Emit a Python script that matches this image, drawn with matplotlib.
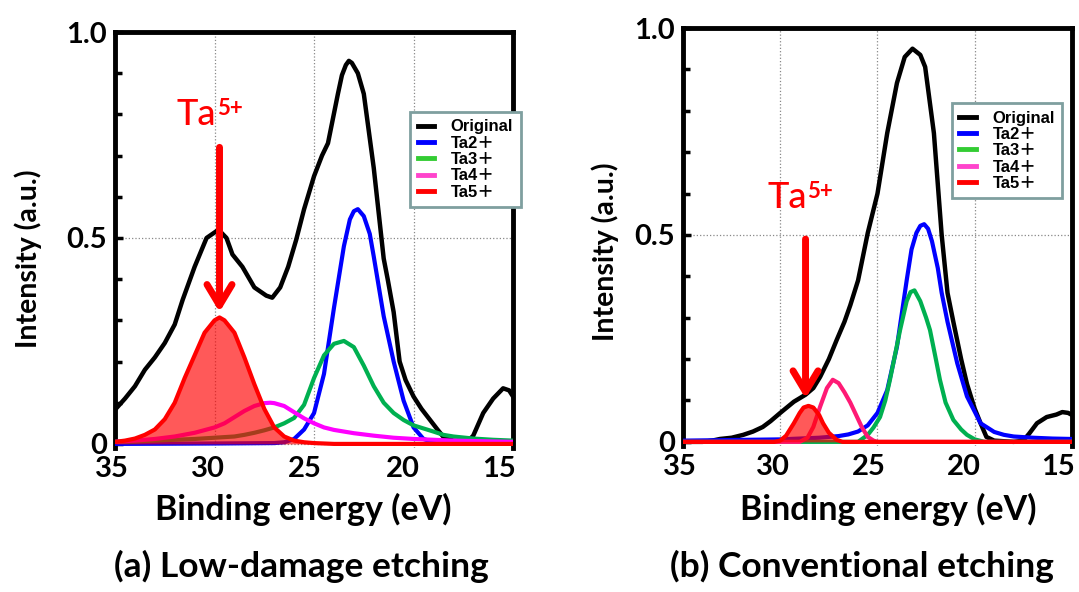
import matplotlib
matplotlib.use("Agg")
import matplotlib.pyplot as plt
from matplotlib.lines import Line2D
from matplotlib.ticker import MultipleLocator
from matplotlib.transforms import ScaledTranslation

# ─── Fonts / colours ─────────────────────────────────────────────────────────
plt.rcParams['font.family'] = ['Lato', 'DejaVu Sans']
LEGEND_FONT = ['Liberation Sans', 'Noto Sans CJK JP']

C_ORIG = "black"
C_TA2 = "#0000ff"
C_TA3 = "#00b050"
C_TA4 = "#ff00ff"
C_TA5 = "#ff0000"
LEG_COLORS = ["black", "#0000ff", "#33cc33", "#ff44cc", "#ff0000"]
LEG_LABELS = ["Original", "Ta2＋", "Ta3＋", "Ta4＋", "Ta5＋"]

X_TICKS = [35, 30, 25, 20, 15]
X_TICKLABELS = ["35", "30", "25", "20", "15"]
Y_TICKS = [0, 0.5, 1.0]
Y_TICKLABELS = ["0", "0.5", "1.0"]

# ─── (a) Low-damage etching ──────────────────────────────────────────────────
a_orig_e = [35.0, 34.5, 34.0, 33.5, 33.0, 32.5, 32.0, 31.6, 31.0, 30.4, 29.8, 29.4,
            29.1, 28.6, 28.0, 27.4, 27.1, 26.7, 26.3, 25.9, 25.5, 25.0, 24.6, 24.3,
            23.8, 23.6, 23.4, 23.25, 23.1, 22.8, 22.5, 22.0, 21.5, 21.3, 21.0, 20.7, 20.4,
            20.0, 19.6, 19.2, 18.8, 18.5, 18.0, 17.3, 17.0, 16.5, 16.0, 15.5, 15.2, 15.0]
a_orig_i = [0.083, 0.11, 0.14, 0.18, 0.21, 0.245, 0.29, 0.35, 0.43, 0.50, 0.52, 0.50,
            0.46, 0.43, 0.38, 0.36, 0.355, 0.38, 0.43, 0.495, 0.57, 0.65, 0.70, 0.73,
            0.85, 0.895, 0.92, 0.93, 0.925, 0.90, 0.85, 0.67, 0.45, 0.40, 0.32, 0.20, 0.155,
            0.115, 0.085, 0.06, 0.035, 0.017, 0.008, 0.005, 0.02, 0.075, 0.11, 0.135, 0.13, 0.115]

a_ta2_e = [35.0, 30.0, 27.0, 26.5, 26.0, 25.5, 25.0, 24.5, 24.0, 23.5, 23.2, 23.0,
           22.8, 22.5, 22.2, 22.0, 21.5, 21.0, 20.5, 20.0, 19.5, 19.0, 18.5, 17.0, 15.0]
a_ta2_i = [0.0, 0.001, 0.002, 0.004, 0.012, 0.035, 0.075, 0.17, 0.33, 0.48, 0.545, 0.565,
           0.57, 0.553, 0.51, 0.455, 0.31, 0.20, 0.105, 0.04, 0.012, 0.004, 0.002, 0.001, 0.0]

a_ta3_e = [35.0, 34.0, 33.0, 32.0, 31.0, 30.0, 29.0, 28.5, 28.0, 27.5, 27.0, 26.5, 26.0,
           25.5, 25.0, 24.5, 24.0, 23.5, 23.0, 22.5, 22.0, 21.5, 21.0, 20.5, 20.0, 19.0,
           18.5, 18.0, 17.0, 16.0, 15.0]
a_ta3_i = [0.005, 0.006, 0.008, 0.010, 0.012, 0.015, 0.018, 0.022, 0.027, 0.033, 0.04,
           0.05, 0.063, 0.095, 0.16, 0.215, 0.243, 0.25, 0.235, 0.19, 0.14, 0.10, 0.075,
           0.058, 0.045, 0.03, 0.022, 0.018, 0.013, 0.010, 0.008]

a_ta4_e = [35.0, 34.0, 33.0, 32.0, 31.0, 30.0, 29.5, 29.0, 28.5, 28.0, 27.5, 27.2, 27.0,
           26.5, 26.0, 25.5, 25.0, 24.5, 24.0, 23.0, 22.0, 21.0, 20.0, 19.0, 18.0, 17.0, 15.0]
a_ta4_i = [0.005, 0.008, 0.012, 0.018, 0.027, 0.04, 0.05, 0.065, 0.08, 0.092, 0.099,
           0.10, 0.099, 0.092, 0.077, 0.062, 0.05, 0.04, 0.034, 0.026, 0.02, 0.015, 0.012,
           0.01, 0.008, 0.007, 0.005]

a_ta5_e = [35.0, 34.5, 34.0, 33.5, 33.0, 32.5, 32.0, 31.5, 31.0, 30.5, 30.0, 29.75, 29.5,
           29.0, 28.5, 28.0, 27.5, 27.0, 26.5, 26.0, 25.5, 25.0, 24.0, 15.0]
a_ta5_i = [0.005, 0.008, 0.013, 0.022, 0.035, 0.06, 0.10, 0.16, 0.215, 0.27, 0.30, 0.307,
           0.30, 0.27, 0.21, 0.145, 0.085, 0.04, 0.018, 0.008, 0.004, 0.002, 0.0, 0.0]

# ─── (b) Conventional etching ────────────────────────────────────────────────
b_orig_e = [35.0, 34.0, 33.5, 33.1, 32.5, 31.9, 31.4, 30.9, 30.5, 30.0, 29.3, 28.7,
            28.3, 27.95, 27.5, 27.1, 26.7, 26.4, 26.0, 25.5, 25.0, 24.5, 24.0, 23.6,
            23.2, 22.8, 22.55, 22.1, 21.7, 21.4, 21.1, 20.7, 20.4, 20.0, 19.7, 19.4,
            19.0, 18.0, 17.5, 17.2, 16.8, 16.3, 15.8, 15.5, 15.2, 15.0]
b_orig_i = [0.0, 0.0, 0.003, 0.007, 0.01, 0.017, 0.025, 0.036, 0.05, 0.07, 0.097, 0.114,
            0.13, 0.157, 0.20, 0.246, 0.29, 0.33, 0.39, 0.505, 0.60, 0.746, 0.867, 0.93,
            0.95, 0.935, 0.906, 0.746, 0.50, 0.36, 0.29, 0.20, 0.14, 0.08, 0.045, 0.012,
            0.003, 0.0, 0.003, 0.02, 0.045, 0.06, 0.066, 0.072, 0.07, 0.065]

b_ta2_e = [35.0, 30.0, 28.0, 27.0, 26.5, 26.0, 25.5, 25.0, 24.5, 24.0, 23.5, 23.25,
           23.0, 22.8, 22.6, 22.4, 22.2, 21.9, 21.7, 21.4, 20.9, 20.4, 19.7, 19.0, 18.5,
           18.0, 17.0, 16.0, 15.0]
b_ta2_i = [0.003, 0.006, 0.01, 0.014, 0.018, 0.025, 0.04, 0.07, 0.125, 0.23, 0.39, 0.465,
           0.505, 0.522, 0.526, 0.515, 0.485, 0.42, 0.36, 0.29, 0.19, 0.11, 0.045, 0.024,
           0.017, 0.013, 0.01, 0.008, 0.007]

b_ta3_e = [35.0, 26.0, 25.5, 25.2, 24.87, 24.6, 24.36, 24.1, 23.84, 23.5, 23.3, 23.1,
           22.8, 22.5, 22.3, 22.0, 21.79, 21.5, 21.1, 20.7, 20.4, 20.0, 19.5, 15.0]
b_ta3_i = [0.0, 0.0, 0.017, 0.035, 0.06, 0.10, 0.15, 0.21, 0.27, 0.34, 0.362, 0.366,
           0.34, 0.30, 0.27, 0.20, 0.15, 0.095, 0.053, 0.03, 0.017, 0.006, 0.0, 0.0]

b_ta4_e = [35.0, 29.0, 28.6, 28.3, 27.95, 27.6, 27.3, 27.0, 26.7, 26.4, 26.1, 25.8,
           25.5, 25.2, 25.0, 15.0]
b_ta4_i = [0.0, 0.0, 0.01, 0.036, 0.085, 0.13, 0.15, 0.142, 0.12, 0.095, 0.065, 0.035,
           0.012, 0.003, 0.0, 0.0]

b_ta5_e = [35.0, 30.3, 30.0, 29.7, 29.3, 29.0, 28.8, 28.55, 28.3, 28.0, 27.8, 27.5,
           27.1, 26.8, 15.0]
b_ta5_i = [0.0, 0.0, 0.003, 0.015, 0.045, 0.07, 0.083, 0.087, 0.083, 0.065, 0.045,
           0.022, 0.005, 0.0, 0.0]

# annotation anchors: (energy, arrow top, arrow tip) and label (energy, baseline)
a_arrow = (29.75, 0.72, 0.32)
b_arrow = (28.7, 0.49, 0.105)
a_label = (31.9, 0.774)
b_label = (30.68, 0.565)

# tick label nudges in pixels (reference labels sit a little left of ticks)
X_NUDGE = [-3, -7, -9, -11, -14]


def draw_panel(ax, orig, ta2, ta3, ta4, ta5, ta4_color, arrow, label):
    ax.set_xlim(35, 15)
    ax.set_ylim(-0.01, 1.0)
    ax.grid(True, linestyle=':', color='#888888', linewidth=0.9, zorder=0)
    ax.plot(*orig, color=C_ORIG, lw=3.2, zorder=3, solid_joinstyle='round')
    ax.plot(*ta2, color=C_TA2, lw=3.0, zorder=4, solid_joinstyle='round')
    ax.plot(*ta3, color=C_TA3, lw=3.0, zorder=4, solid_joinstyle='round')
    ax.plot(*ta4, color=ta4_color, lw=3.0, zorder=4, solid_joinstyle='round')
    ax.fill_between(ta5[0], ta5[1], 0, color=C_TA5, alpha=0.65, lw=0, zorder=5)
    ax.plot(*ta5, color=C_TA5, lw=3.0, zorder=6, solid_joinstyle='round')

    ax.set_xticks(X_TICKS)
    ax.set_xticklabels(X_TICKLABELS)
    ax.set_yticks(Y_TICKS)
    ax.set_yticklabels(Y_TICKLABELS)
    ax.yaxis.set_minor_locator(MultipleLocator(0.1))
    ax.tick_params(axis='x', length=0, pad=6, labelsize=21)
    ax.tick_params(axis='y', which='both', direction='in', width=2.5, pad=6, labelsize=21)
    ax.tick_params(axis='y', which='major', length=6)
    ax.tick_params(axis='y', which='minor', length=5)
    for t in ax.get_xticklabels() + ax.get_yticklabels():
        t.set_fontweight('bold')
    for t, dx in zip(ax.get_xticklabels(), X_NUDGE):
        t.set_transform(t.get_transform() + ScaledTranslation(dx / 100, 0, fig.dpi_scale_trans))
    for side in ['left', 'right', 'top']:
        ax.spines[side].set_linewidth(3.5)
    ax.spines['bottom'].set_visible(False)

    x, y0, y1 = arrow
    ax.annotate('', xy=(x, y1), xytext=(x, y0),
                arrowprops=dict(arrowstyle='->,head_length=0.75,head_width=0.45',
                                lw=5, color=C_TA5, mutation_scale=20,
                                shrinkA=0, shrinkB=0), zorder=7)
    ta = ax.text(label[0], label[1], 'Ta', color=C_TA5, fontsize=26,
                 fontweight='medium', ha='left', va='baseline', zorder=7)
    ax.annotate('5+', xy=(1, 0), xycoords=ta, xytext=(1, 16),
                textcoords='offset pixels', color=C_TA5, fontsize=16,
                fontweight='bold', ha='left', va='baseline', zorder=7)


fig = plt.figure(figsize=(10.79, 5.92), dpi=100, facecolor='white')
ax_a = fig.add_axes([0.1066, 0.2432, 0.3689, 0.7027])
ax_b = fig.add_axes([0.6330, 0.2466, 0.3605, 0.7061])

draw_panel(ax_a, (a_orig_e, a_orig_i), (a_ta2_e, a_ta2_i), (a_ta3_e, a_ta3_i),
           (a_ta4_e, a_ta4_i), (a_ta5_e, a_ta5_i), C_TA4, a_arrow, a_label)
draw_panel(ax_b, (b_orig_e, b_orig_i), (b_ta2_e, b_ta2_i), (b_ta3_e, b_ta3_i),
           (b_ta4_e, b_ta4_i), (b_ta5_e, b_ta5_i), "#ff1a75", b_arrow, b_label)

# legends
handles = [Line2D([], [], color=c, lw=3.5) for c in LEG_COLORS]
for anchor in [(0.380, 0.811), (0.882, 0.826)]:
    leg = fig.legend(handles, LEG_LABELS, loc='upper left', bbox_to_anchor=anchor,
                     prop={'family': LEGEND_FONT, 'weight': 'bold', 'size': 12},
                     frameon=True, fancybox=False, framealpha=1, edgecolor='#7f9f9f',
                     handlelength=1.0, handletextpad=1.0, labelspacing=0.08,
                     borderpad=0.45, borderaxespad=0)
    leg.get_frame().set_linewidth(2)
    leg.set_zorder(10)

# axis labels and panel titles
fig.text(0.281, 0.1216, "Binding energy (eV)", ha='center', va='baseline',
         fontsize=24.5, fontweight='bold')
fig.text(0.823, 0.1216, "Binding energy (eV)", ha='center', va='baseline',
         fontsize=24.5, fontweight='bold')
fig.text(0.026, 0.5625, "Intensity (a.u.)", ha='center', va='center', rotation=90,
         fontsize=20.5, fontweight='bold')
fig.text(0.561, 0.574, "Intensity (a.u.)", ha='center', va='center', rotation=90,
         fontsize=20.5, fontweight='bold')
fig.text(0.279, 0.0253, "(a) Low-damage etching", ha='center', va='baseline',
         fontsize=25.5, fontweight='bold')
fig.text(0.799, 0.0253, "(b) Conventional etching", ha='center', va='baseline',
         fontsize=25.5, fontweight='bold')

plt.savefig("out.png", dpi=100)
